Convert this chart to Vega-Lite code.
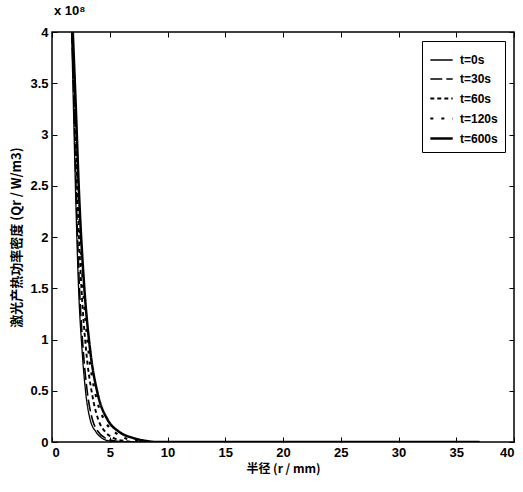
{
  "$schema": "https://vega.github.io/schema/vega-lite/v6.json",
  "width": 462,
  "height": 410,
  "autosize": {"type": "none"},
  "padding": {"left": 52, "top": 32, "right": 9, "bottom": 50},
  "background": "white",
  "title": {"text": "x 10⁸", "anchor": "start", "frame": "group", "fontSize": 13, "font": "Liberation Sans", "fontWeight": "bold", "offset": 8, "dx": 2},
  "config": {
    "view": {"stroke": "black", "strokeWidth": 1.5},
    "font": "Liberation Sans",
    "axis": {"grid": false, "domainColor": "black", "tickColor": "black", "labelColor": "black", "titleColor": "black", "labelFont": "Liberation Sans", "labelFontWeight": "bold", "labelFontSize": 13, "titleFont": "Noto Sans CJK SC", "titleFontSize": 12, "titleFontWeight": "bold"}
  },
  "data": {"values": [
    {"t": "t=0s", "r": 1.7, "q": 4.0}, {"t": "t=0s", "r": 1.85, "q": 3.3}, {"t": "t=0s", "r": 2.05, "q": 2.4}, {"t": "t=0s", "r": 2.3, "q": 1.5}, {"t": "t=0s", "r": 2.6, "q": 0.9}, {"t": "t=0s", "r": 2.95, "q": 0.45}, {"t": "t=0s", "r": 3.3, "q": 0.22}, {"t": "t=0s", "r": 3.8, "q": 0.1}, {"t": "t=0s", "r": 4.3, "q": 0.04}, {"t": "t=0s", "r": 5.0, "q": 0.01}, {"t": "t=0s", "r": 6.0, "q": 0.0}, {"t": "t=0s", "r": 37.0, "q": 0.0},
    {"t": "t=30s", "r": 1.72, "q": 4.0}, {"t": "t=30s", "r": 1.9, "q": 3.3}, {"t": "t=30s", "r": 2.1, "q": 2.4}, {"t": "t=30s", "r": 2.38, "q": 1.5}, {"t": "t=30s", "r": 2.7, "q": 0.9}, {"t": "t=30s", "r": 3.1, "q": 0.45}, {"t": "t=30s", "r": 3.5, "q": 0.22}, {"t": "t=30s", "r": 4.0, "q": 0.1}, {"t": "t=30s", "r": 4.6, "q": 0.04}, {"t": "t=30s", "r": 5.5, "q": 0.01}, {"t": "t=30s", "r": 6.5, "q": 0.0}, {"t": "t=30s", "r": 37.0, "q": 0.0},
    {"t": "t=60s", "r": 1.75, "q": 4.0}, {"t": "t=60s", "r": 1.95, "q": 3.3}, {"t": "t=60s", "r": 2.2, "q": 2.4}, {"t": "t=60s", "r": 2.55, "q": 1.5}, {"t": "t=60s", "r": 2.95, "q": 0.9}, {"t": "t=60s", "r": 3.5, "q": 0.45}, {"t": "t=60s", "r": 4.0, "q": 0.22}, {"t": "t=60s", "r": 4.6, "q": 0.1}, {"t": "t=60s", "r": 5.3, "q": 0.04}, {"t": "t=60s", "r": 6.3, "q": 0.01}, {"t": "t=60s", "r": 7.5, "q": 0.0}, {"t": "t=60s", "r": 37.0, "q": 0.0},
    {"t": "t=120s", "r": 1.78, "q": 4.0}, {"t": "t=120s", "r": 2.0, "q": 3.3}, {"t": "t=120s", "r": 2.3, "q": 2.4}, {"t": "t=120s", "r": 2.7, "q": 1.5}, {"t": "t=120s", "r": 3.15, "q": 0.9}, {"t": "t=120s", "r": 3.8, "q": 0.45}, {"t": "t=120s", "r": 4.5, "q": 0.22}, {"t": "t=120s", "r": 5.4, "q": 0.1}, {"t": "t=120s", "r": 6.3, "q": 0.04}, {"t": "t=120s", "r": 7.5, "q": 0.01}, {"t": "t=120s", "r": 8.5, "q": 0.0}, {"t": "t=120s", "r": 37.0, "q": 0.0},
    {"t": "t=600s", "r": 1.8, "q": 4.0}, {"t": "t=600s", "r": 2.05, "q": 3.3}, {"t": "t=600s", "r": 2.35, "q": 2.4}, {"t": "t=600s", "r": 2.8, "q": 1.5}, {"t": "t=600s", "r": 3.3, "q": 0.9}, {"t": "t=600s", "r": 4.0, "q": 0.45}, {"t": "t=600s", "r": 4.8, "q": 0.22}, {"t": "t=600s", "r": 5.8, "q": 0.1}, {"t": "t=600s", "r": 7.0, "q": 0.04}, {"t": "t=600s", "r": 8.2, "q": 0.01}, {"t": "t=600s", "r": 9.0, "q": 0.0}, {"t": "t=600s", "r": 37.0, "q": 0.0}
  ]},
  "layer": [
    {
      "mark": {"type": "line", "color": "black", "clip": true, "interpolate": "monotone"},
      "encoding": {
        "x": {"field": "r", "type": "quantitative", "scale": {"domain": [0, 40], "nice": false},
              "axis": {"values": [0, 5, 10, 15, 20, 25, 30, 35, 40], "title": "半径  (r / mm)", "tickSize": -5, "labelPadding": 9, "titlePadding": 4, "domain": false}},
        "y": {"field": "q", "type": "quantitative", "scale": {"domain": [0, 4], "nice": false},
              "axis": {"values": [0, 0.5, 1, 1.5, 2, 2.5, 3, 3.5, 4], "format": "~g", "title": "激光产热功率密度  (Qr / W/m3)", "titleFontSize": 13, "tickSize": -5, "labelPadding": 9, "titlePadding": 6, "domain": false}},
        "detail": {"field": "t"},
        "strokeDash": {"field": "t", "type": "nominal",
          "scale": {"domain": ["t=0s", "t=30s", "t=60s", "t=120s", "t=600s"], "range": [[1, 0], [12, 4], [4, 3], [3, 8], [1, 0]]},
          "legend": {"title": null, "orient": "top-right", "offset": 9, "strokeColor": "black", "padding": 7, "fillColor": "white", "labelFontSize": 12, "labelFontWeight": "bold", "symbolType": "stroke", "symbolSize": 500, "rowPadding": 1, "labelOffset": 6, "labelColor": "black", "symbolStrokeColor": "black"}},
        "strokeWidth": {"field": "t", "type": "nominal",
          "scale": {"domain": ["t=0s", "t=30s", "t=60s", "t=120s", "t=600s"], "range": [1.3, 2.5, 1.2, 2, 2.6]}}
      }
    },
    {
      "mark": {"type": "line", "opacity": 0},
      "encoding": {
        "x": {"field": "r", "type": "quantitative", "axis": {"orient": "top", "values": [0, 5, 10, 15, 20, 25, 30, 35, 40], "labels": false, "title": null, "tickSize": -5, "domain": false}},
        "y": {"field": "q", "type": "quantitative", "axis": {"orient": "right", "values": [0, 0.5, 1, 1.5, 2, 2.5, 3, 3.5, 4], "labels": false, "title": null, "tickSize": -5, "domain": false}},
        "detail": {"field": "t"}
      }
    }
  ],
  "resolve": {"axis": {"x": "independent", "y": "independent"}}
}
